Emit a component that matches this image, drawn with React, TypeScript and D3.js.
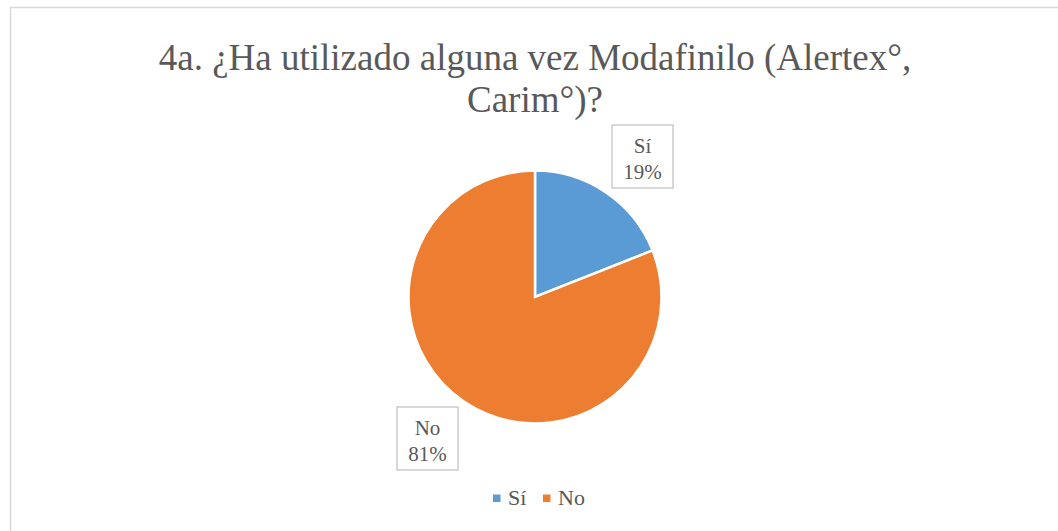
import { useEffect, useRef } from 'react';
import * as d3 from 'd3';

const categories = ['Sí', 'No'];
const values = [19, 81];
const colors = ['#5B9BD5', '#ED7D31'];
const titleLines = ['4a. ¿Ha utilizado alguna vez Modafinilo (Alertex°,', 'Carim°)?'];

const FONT = "'Liberation Serif', 'Times New Roman', Tinos, 'DejaVu Serif', serif";

const App = () => {
  const svgRef = useRef<SVGSVGElement>(null);

  useEffect(() => {
    const svg = d3.select(svgRef.current);
    svg.selectAll('*').remove();

    const width = 1058;
    const height = 531;
    const cx = 535;
    const cy = 297;
    const radius = 126.5;
    const textColor = '#595959';

    svg.append('rect')
      .attr('x', 10.5)
      .attr('y', 7.5)
      .attr('width', width)
      .attr('height', height)
      .attr('fill', '#fff')
      .attr('stroke', '#d9d9d9')
      .attr('stroke-width', 1.5);

    // title
    svg.append('text')
      .attr('text-anchor', 'middle')
      .style('font-family', FONT)
      .style('font-size', '37px')
      .attr('fill', textColor)
      .selectAll('tspan')
      .data(titleLines)
      .join('tspan')
      .attr('x', 535)
      .attr('y', (d, i) => 70 + i * 42)
      .text(d => d);

    const data = categories.map((c, i) => ({ name: c, value: values[i], color: colors[i] }));
    const pie = d3.pie<any>().value(d => d.value).sort(null);
    const arc = d3.arc<any>().innerRadius(0).outerRadius(radius);
    const arcs = pie(data);

    const g = svg.append('g').attr('transform', `translate(${cx},${cy})`);
    g.selectAll('path')
      .data(arcs)
      .join('path')
      .attr('d', arc)
      .attr('fill', d => d.data.color)
      .attr('stroke', '#fff')
      .attr('stroke-width', 2.5);

    // data labels (boxes outside the pie)
    const labelPos = [
      { x: 642.5, y: 156.5 },
      { x: 427.5, y: 438.5 },
    ];
    arcs.forEach((a, i) => {
      const lg = svg.append('g').attr('transform', `translate(${labelPos[i].x},${labelPos[i].y})`);
      lg.append('rect')
        .attr('x', -30.5)
        .attr('y', -31.5)
        .attr('width', 61)
        .attr('height', 63)
        .attr('fill', '#fff')
        .attr('stroke', '#bfbfbf')
        .attr('stroke-width', 1.2);
      const pct = Math.round((a.data.value / d3.sum(values)) * 100) + '%';
      lg.append('text')
        .attr('text-anchor', 'middle')
        .style('font-family', FONT)
        .style('font-size', '21px')
        .attr('fill', textColor)
        .selectAll('tspan')
        .data([a.data.name, pct])
        .join('tspan')
        .attr('x', 0)
        .attr('y', (d, j) => -4 + j * 26)
        .text(d => d);
    });

    // legend
    const legendX = [493, 543];
    const legend = svg.append('g');
    data.forEach((d, i) => {
      legend.append('rect')
        .attr('x', legendX[i])
        .attr('y', 494.5)
        .attr('width', 7.5)
        .attr('height', 7.5)
        .attr('fill', d.color);
      legend.append('text')
        .attr('x', legendX[i] + 15)
        .attr('y', 505)
        .style('font-family', FONT)
        .style('font-size', '22px')
        .attr('fill', textColor)
        .text(d.name);
    });
  }, []);

  return (
    <svg ref={svgRef} width={1058} height={531} style={{ position: 'absolute', left: 0, top: 0 }}></svg>
  );
};

export default App;
